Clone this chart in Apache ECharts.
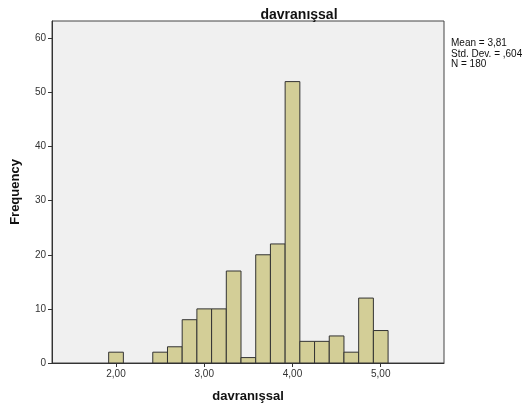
<!DOCTYPE html>
<html>
<head>
<meta charset="utf-8">
<script src="https://cdn.jsdelivr.net/npm/echarts@6/dist/echarts.min.js"></script>
<style>
html,body{margin:0;padding:0;background:#fff;}
#c{width:525px;height:408px;}
</style>
</head>
<body>
<div id="c"></div>
<script>
// Histogram data (bin centers in steps of 1/6)
var binCenters = [2.0, 2.5, 2.6667, 2.8333, 3.0, 3.1667, 3.3333, 3.5, 3.6667, 3.8333, 4.0, 4.1667, 4.3333, 4.5, 4.6667, 4.8333, 5.0];
var counts     = [2,   2,   3,      8,      10,  10,     17,     1,   20,     22,     52,  4,      4,      5,   2,      12,     6];
var binWidth = 1 / 6;
var xTicks = [2, 3, 4, 5];
var yTicks = [0, 10, 20, 30, 40, 50, 60];
var statsLines = ['Mean = 3,81', 'Std. Dev. = ,604', 'N = 180'];

var data = binCenters.map(function (c, i) { return [c - binWidth / 2, c + binWidth / 2, counts[i]]; });

var chart = echarts.init(document.getElementById('c'), null, {renderer: 'canvas'});
chart.setOption({
  animation: false,
  backgroundColor: '#ffffff',
  title: {
    text: 'davranışsal',
    left: 294, top: 3, textAlign: 'center',
    textStyle: {fontFamily: 'Liberation Sans, Arial', fontSize: 14, fontWeight: 'bold', color: '#111'}
  },
  grid: {left: 52, top: 21, right: 81, bottom: 45, containLabel: false, outerBoundsMode: 'none',
    show: true, backgroundColor: '#f0f0f0', borderColor: '#444', borderWidth: 1},
  xAxis: {
    type: 'value', min: 1.2746, max: 5.717,
    name: 'davranışsal', nameLocation: 'middle', nameGap: 27,
    nameTextStyle: {fontFamily: 'Liberation Sans, Arial', fontSize: 13, fontWeight: 'bold', color: '#111'},
    axisLine: {show: true, onZero: false, lineStyle: {color: '#333', width: 1}},
    axisTick: {show: true, customValues: xTicks, length: 4, lineStyle: {color: '#333'}},
    axisLabel: {customValues: xTicks, color: '#333', fontFamily: 'Liberation Sans, Arial', fontSize: 10, margin: 6,
      formatter: function (v) { return v.toFixed(2).replace('.', ','); }},
    splitLine: {show: false}
  },
  yAxis: {
    type: 'value', min: 0, max: 63.2,
    name: 'Frequency', nameLocation: 'middle', nameGap: 30, nameRotate: 90,
    nameTextStyle: {fontFamily: 'Liberation Sans, Arial', fontSize: 13, fontWeight: 'bold', color: '#111'},
    axisLine: {show: true, lineStyle: {color: '#333', width: 1}},
    axisTick: {show: true, customValues: yTicks, length: 4, lineStyle: {color: '#333'}},
    axisLabel: {customValues: yTicks, color: '#333', fontFamily: 'Liberation Sans, Arial', fontSize: 10, margin: 6},
    splitLine: {show: false}
  },
  graphic: [{
    type: 'text', left: 451, top: 38,
    style: {text: statsLines.join('\n'), fontFamily: 'Liberation Sans, Arial', fontSize: 10, lineHeight: 10.5, fill: '#111'}
  }],
  series: [{
    type: 'custom',
    data: data,
    encode: {x: [0, 1], y: 2},
    renderItem: function (params, api) {
      var p0 = api.coord([api.value(0), api.value(2)]);
      var p1 = api.coord([api.value(1), 0]);
      return {
        type: 'rect',
        shape: {x: p0[0], y: p0[1], width: p1[0] - p0[0], height: p1[1] - p0[1]},
        style: {fill: '#d3ce97', stroke: '#333', lineWidth: 1}
      };
    }
  }]
});
</script>
</body>
</html>
